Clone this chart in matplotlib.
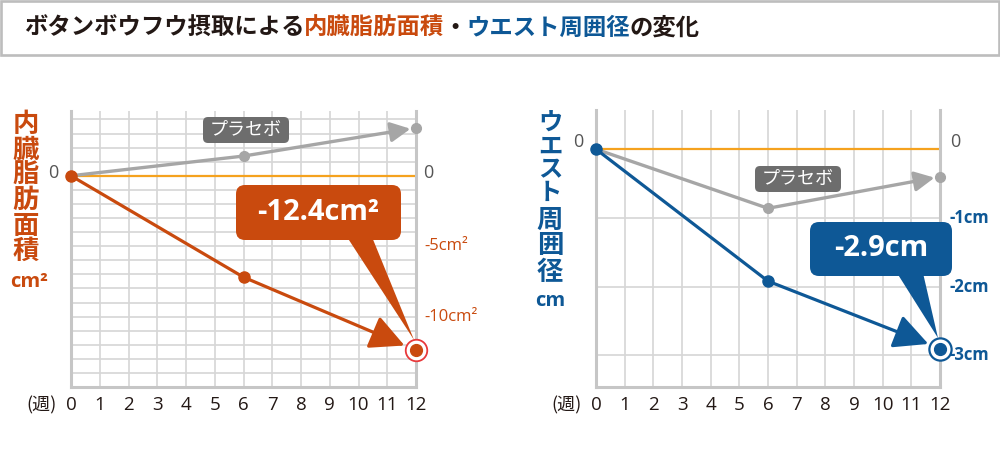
import matplotlib
matplotlib.use('Agg')
import matplotlib.pyplot as plt
from matplotlib.patches import FancyBboxPatch, Polygon, Rectangle, FancyArrowPatch
from matplotlib.transforms import blended_transform_factory

plt.rcParams['font.family'] = ['Noto Sans CJK JP', 'DejaVu Sans']

# data
weeks = [0, 6, 12]
week_ticks = list(range(13))
fat_active = [0, -7.2, -12.4]
fat_placebo = [0, 1.4, 3.4]
waist_active = [0, -1.92, -2.9]
waist_placebo = [0, -0.86, -0.40]

fat_ticks = [-5, -10]
fat_tick_labels = ['-5cm²', '-10cm²']
waist_ticks = [-1, -2, -3]
waist_tick_labels = ['-1cm', '-2cm', '-3cm']
fat_result = '-12.4cm²'
waist_result = '-2.9cm'
placebo_label = 'プラセボ'
fat_axis_label = '内臓脂肪面積'
waist_axis_label = 'ウエスト周囲径'
week_unit = '(週)'
title_parts = [('ボタンボウフウ摂取による', 'k'), ('内臓脂肪面積', 'o'), ('・', 'k'),
               ('ウエスト周囲径', 'b'), ('の変化', 'k')]

ORANGE = '#C94A0E'
BLUE = '#0E5896'
BLACK = '#231815'
ZERO = '#F5A21E'
GRAY = '#A6A6A6'
GRID = '#D6D6D6'
SPINE = '#C6C6C6'
RING_RED = '#E8393B'
TAG = '#6D6D6D'
NUM = 'Open Sans'

W, H = 1000, 450
fig = plt.figure(figsize=(10, 4.5), dpi=100)


def rect(x0, y0, x1, y1):
    # pixel box (top-left origin) -> figure fraction
    return [x0 / W, 1 - y1 / H, (x1 - x0) / W, (y1 - y0) / H]


def inch(x, y):
    return x / 100, (H - y) / 100


# title box
fig.add_artist(Rectangle(inch(1.2, 55), 997.6 / 100, 53.8 / 100, transform=fig.dpi_scale_trans,
                         fc='white', ec='#BDBDBD', lw=1.9))
cols = {'k': BLACK, 'o': ORANGE, 'b': BLUE}
em = 23.3
pos = 24
for txt, c in title_parts:
    fig.text(pos / W, 1 - 28 / H, txt, color=cols[c], fontsize=16.8, fontweight='bold',
             ha='left', va='center')
    pos += em * len(txt)

ax1 = fig.add_axes(rect(71, 111, 416, 387))
ax2 = fig.add_axes(rect(596, 110, 940, 387))


def setup(ax, ymin, ymax, hlines):
    ax.set_xlim(0, 12)
    ax.set_ylim(ymin, ymax)
    ax.set_xticks([])
    ax.set_yticks([])
    ax.patch.set_alpha(0)
    for s in ['left', 'right', 'bottom']:
        ax.spines[s].set_color(SPINE)
        ax.spines[s].set_linewidth(2.2)
    ax.spines['top'].set_visible(False)
    for w in week_ticks[1:-1]:
        ax.axvline(w, color=GRID, lw=1.2, zorder=1)
    for h in hlines:
        ax.axhline(h, color=GRID, lw=1.2, zorder=1)
    ax.axhline(0, color=ZERO, lw=1.6, zorder=2)
    tr = blended_transform_factory(ax.transData, fig.transFigure)
    for w in week_ticks:
        ax.text(w, 1 - 405 / H, str(w), transform=tr, ha='center', va='center',
                fontsize=13.5, color=BLACK, family=NUM)


setup(ax1, -15, 4.6, [h for h in range(-14, 5) if h != 0])
setup(ax2, -3.46, 0.57, waist_ticks)


def series(ax, x, y, color, lw, ms, hl, hw, shrink):
    ax.plot(x[:2], y[:2], color=color, lw=lw, zorder=4, solid_capstyle='round')
    arr = FancyArrowPatch((x[1], y[1]), (x[2], y[2]), arrowstyle='-|>,head_length=%g,head_width=%g' % (hl, hw),
                          mutation_scale=1, shrinkA=0, shrinkB=shrink, color=color, lw=lw, zorder=4)
    arr.set_clip_on(False)
    ax.add_patch(arr)
    ax.plot(x[:2], y[:2], 'o', color=color, ms=ms, zorder=5, clip_on=False)


series(ax1, weeks, fat_placebo, GRAY, 2.4, 7, 12, 6, 4)
ax1.plot(weeks[2], fat_placebo[2], 'o', color=GRAY, ms=7, zorder=5, clip_on=False)
series(ax1, weeks, fat_active, ORANGE, 2.3, 8, 21, 10.5, 9)
ax1.plot(weeks[2], fat_active[2], 'o', ms=15.5, mfc='white', mec=RING_RED, mew=1.3, zorder=6, clip_on=False)
ax1.plot(weeks[2], fat_active[2], 'o', ms=8.5, color=ORANGE, zorder=7, clip_on=False)

series(ax2, weeks, waist_placebo, GRAY, 2.4, 7, 12, 6, 4)
ax2.plot(weeks[2], waist_placebo[2], 'o', color=GRAY, ms=7, zorder=5, clip_on=False)
series(ax2, weeks, waist_active, BLUE, 2.3, 8, 21, 10.5, 9)
ax2.plot(weeks[2], waist_active[2], 'o', ms=16, mfc='white', mec=BLUE, mew=1.6, zorder=6, clip_on=False)
ax2.plot(weeks[2], waist_active[2], 'o', ms=8.5, color=BLUE, zorder=7, clip_on=False)

# y tick labels
for ax, xl, xr, dy in [(ax1, -0.052, 1.035, 2), (ax2, -0.052, 1.044, 5)]:
    tr = ax.get_yaxis_transform()
    ax.annotate('0', (xl, 0), xycoords=tr, xytext=(0, dy), textcoords='offset points',
                ha='center', va='center', fontsize=13, color='#555555', family=NUM)
    ax.annotate('0', (xr, 0), xycoords=tr, xytext=(0, dy), textcoords='offset points',
                ha='center', va='center', fontsize=13, color='#555555', family=NUM)
for v, lab in zip(fat_ticks, fat_tick_labels):
    ax1.text(1.023, v, lab, transform=ax1.get_yaxis_transform(), ha='left', va='center',
             fontsize=12, color=ORANGE, family=NUM)
for v, lab in zip(waist_ticks, waist_tick_labels):
    ax2.text(1.029, v, lab, transform=ax2.get_yaxis_transform(), ha='left', va='center',
             fontsize=12, color=BLUE, family=NUM, fontweight='bold')

fig.text(41.7 / W, 1 - 405 / H, week_unit, ha='center', va='center', fontsize=13, color=BLACK)
fig.text(566.7 / W, 1 - 405 / H, week_unit, ha='center', va='center', fontsize=13, color=BLACK)

# stacked axis titles
for ch, yy in zip(fat_axis_label, [125, 150, 175, 200, 226.5, 251.5]):
    fig.text(26 / W, 1 - yy / H, ch, ha='center', va='center', fontsize=19, fontweight='bold', color=ORANGE)
fig.text(29 / W, 1 - 282 / H, 'cm²', ha='center', va='center', fontsize=14.5, fontweight='bold',
         color=ORANGE, family=NUM)
waist_y = [124, 147, 170, 193, 220, 246, 272]
waist_fs = [17.5, 17.5, 17.5, 17.5, 19, 19, 19]
for ch, yy, fs in zip(waist_axis_label, waist_y, waist_fs):
    fig.text(550 / W, 1 - yy / H, ch, ha='center', va='center', fontsize=fs, fontweight='bold', color=BLUE)
fig.text(550 / W, 1 - 301 / H, 'cm', ha='center', va='center', fontsize=14.5, fontweight='bold',
         color=BLUE, family=NUM)


def tag(x0, y0, x1, y1, text):
    bx, by = inch(x0, y1)
    fig.add_artist(FancyBboxPatch((bx, by), (x1 - x0) / 100, (y1 - y0) / 100,
                                  boxstyle='round,pad=0,rounding_size=0.05',
                                  transform=fig.dpi_scale_trans, fc=TAG, ec='none'))
    fig.text((x0 + x1) / 2 / W, 1 - (y0 + y1) / 2 / H, text, ha='center', va='center',
             fontsize=13, color='white')


tag(203, 117, 289, 143, placebo_label)
tag(755, 166, 841, 192, placebo_label)


def callout(ax, x, y, text, color, box, base, fs):
    x0, y0, x1, y1 = box
    bx, by = inch(x0, y1)
    fig.add_artist(FancyBboxPatch((bx, by), (x1 - x0) / 100, (y1 - y0) / 100,
                                  boxstyle='round,pad=0,rounding_size=0.09',
                                  transform=fig.dpi_scale_trans, fc=color, ec='none'))
    tx, ty = fig.dpi_scale_trans.inverted().transform(ax.transData.transform((x, y)))
    tip = (tx - 0.02, ty + 0.105)
    fig.add_artist(Polygon([inch(base[0], y1 - 3), inch(base[1], y1 - 3), tip], closed=True,
                           transform=fig.dpi_scale_trans, fc=color, ec='none'))
    fig.text((x0 + x1) / 2 / W, 1 - (y0 + y1) / 2 / H, text, ha='center', va='center',
             fontsize=fs, fontweight='bold', color='white', family=NUM)


callout(ax1, weeks[2], fat_active[2], fat_result, ORANGE, (236, 185, 401, 240), (347, 372), 21)
callout(ax2, weeks[2], waist_active[2], waist_result, BLUE, (810, 222, 952, 276), (897, 923), 21)

fig.savefig('out.png', dpi=100)
